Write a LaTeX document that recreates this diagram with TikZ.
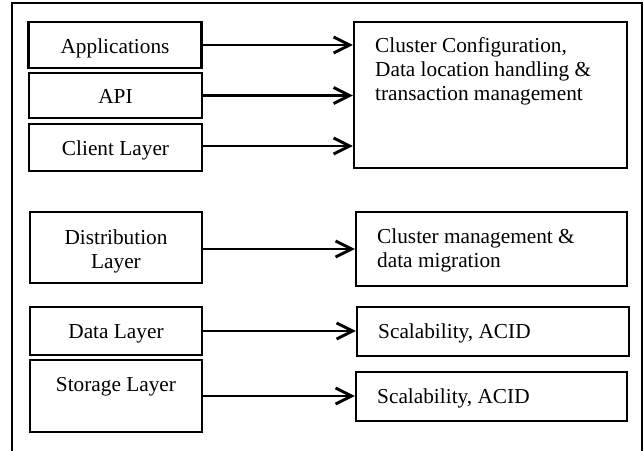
\documentclass[tikz,border=0pt]{standalone}
\usepackage{fontspec}
\setmainfont{Liberation Serif}
\usetikzlibrary{arrows.meta}
\begin{document}
\begin{tikzpicture}[x=1pt,y=-1pt,
  box/.style={draw=black,line width=2.3pt,inner sep=0pt,fill=white},
  lbl/.style={inner sep=0pt,font=\fontsize{21.3}{24}\selectfont},
  mlbl/.style={lbl,align=left},
  conn/.style={line width=2.7pt,-{Straight Barb[length=16pt,width=16pt,line width=2.9pt]}}]
\useasboundingbox (0,0) rectangle (644,450);
% outer frame, open at the bottom
\coordinate (fbl) at (12,452);
\coordinate (ftl) at (12,3);
\coordinate (ftr) at (642,3);
\coordinate (fbr) at (642,452);
\draw[line width=1.9pt] (fbl) -- (ftl) -- (ftr) -- (fbr);

% layer boxes
\node[box,minimum width=173,minimum height=46] (app) at (115,45) {};
\node[box,minimum width=173,minimum height=45] (api) at (115.5,95.5) {};
\node[box,minimum width=173,minimum height=47] (cli) at (115.5,147.5) {};
\node[box,minimum width=172,minimum height=71] (dist) at (116,247.5) {};
\node[box,minimum width=172,minimum height=48] (data) at (116,331) {};
\node[box,minimum width=172,minimum height=72] (stor) at (116,396) {};

% multi-line labels are placed by the baseline of their last line
\node[lbl,anchor=base] (appT) at (115,53) {Applications};
\node[lbl,anchor=base] (apiT) at (115.5,103) {API};
\node[lbl,anchor=base] (cliT) at (115.5,155) {Client Layer};
\node[lbl,anchor=base,align=center] (distT) at (116,268) {Distribution\\Layer};
\node[lbl,anchor=base] (dataT) at (116,338) {Data Layer};
\node[lbl,anchor=base] (storT) at (116,391) {Storage Layer};

% function boxes
\node[box,minimum width=273,minimum height=146] (cfg) at (490.5,95) {};
\node[box,minimum width=271,minimum height=74] (cman) at (491.5,249) {};
\node[box,minimum width=272,minimum height=49] (scA) at (493,331.5) {};
\node[box,minimum width=271,minimum height=49] (scB) at (491.5,396.5) {};

\node[mlbl,anchor=base west] (cfgT) at (375,100) {Cluster Configuration,\\Data location handling \&\\transaction management};
\node[mlbl,anchor=base west] (cmanT) at (377,267) {Cluster management \&\\data migration};
\node[lbl,anchor=base west] (scAT) at (378,338) {Scalability, ACID};
\node[lbl,anchor=base west] (scBT) at (377,403) {Scalability, ACID};

% connectors
\draw[conn] (app.east) -- (app.east -| cfg.west);
\draw[conn] (api.east) -- (api.east -| cfg.west);
\draw[conn] (cli.east |- 0,146) -- (cfg.west |- 0,146);
\draw[conn] (dist.east |- cman.west) -- (cman.west);
\draw[conn] (data.east) -- (data.east -| scA.west);
\draw[conn] (stor.east) -- (stor.east -| scB.west);
\end{tikzpicture}
\end{document}
